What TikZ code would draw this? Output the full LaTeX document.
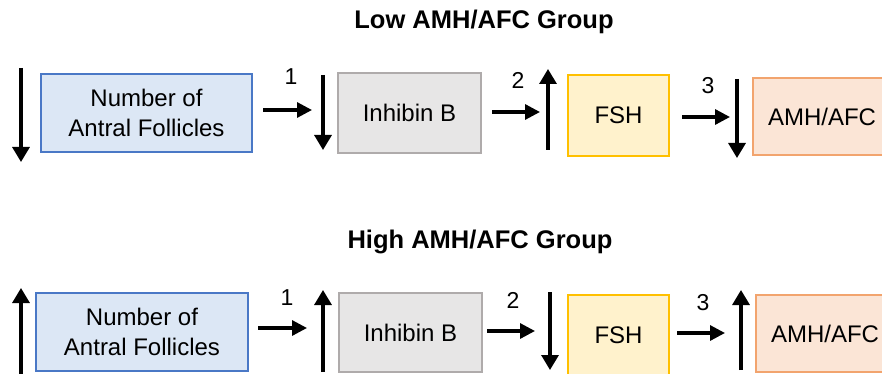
\documentclass[tikz,border=0pt]{standalone}
\usepackage{fontspec}
\setmainfont{Liberation Sans}
\usepackage{xcolor}
\usetikzlibrary{arrows.meta,positioning,calc}
\definecolor{blueFill}{HTML}{DCE7F5}
\definecolor{blueLine}{HTML}{4A78C6}
\definecolor{grayFill}{HTML}{E7E6E6}
\definecolor{grayLine}{HTML}{AFABAB}
\definecolor{yellowFill}{HTML}{FFF2CC}
\definecolor{yellowLine}{HTML}{FFC000}
\definecolor{orangeFill}{HTML}{FBE5D6}
\definecolor{orangeLine}{HTML}{F2A46E}
\tikzset{%
	block/.style    = {draw, rectangle, line width=1.2pt, inner sep=0pt, align=center,
	                   font=\fontsize{24}{30}\selectfont}, % Box
	title/.style    = {font=\fontsize{25.5}{30}\selectfont\bfseries}, % Group title
	step label/.style = {font=\fontsize{23}{27}\selectfont}, % Step number
	arrow/.style    = {line width=3.2pt, -{Triangle[width=15pt,length=15pt]}},
	trend/.style    = {line width=3.2pt, -{Triangle[width=17pt,length=15pt]}},
}

\begin{document}
\begin{tikzpicture}[x=1pt, y=-1pt]
	\useasboundingbox (0,0) rectangle (882,374);
	\clip (0,0) rectangle (882,374);
	% Low group
	\node[title] (lowT) at (484,22) {Low AMH/AFC Group};
	\node[block, fill=blueFill, draw=blueLine, minimum width=211pt, minimum height=78pt] (lowA) at (146.5,113) {Number of\\Antral Follicles};
	\node[block, fill=grayFill, draw=grayLine, minimum width=143pt, minimum height=80pt] (lowB) at (409.5,113) {Inhibin B};
	\node[block, fill=yellowFill, draw=yellowLine, minimum width=101pt, minimum height=81pt] (lowC) at (618.5,115.5) {FSH};
	\node[block, fill=orangeFill, draw=orangeLine, minimum width=138pt, minimum height=77pt] (lowD) at (822,116.5) {AMH/AFC};
	\coordinate (lowA0) at (21,68);  \coordinate (lowA1) at (21,162);
	\coordinate (lowB0) at (323,75); \coordinate (lowB1) at (323,150);
	\coordinate (lowC0) at (548,150); \coordinate (lowC1) at (548,69);
	\coordinate (lowD0) at (737,79); \coordinate (lowD1) at (737,158);
	\draw[trend] (lowA0) -- (lowA1);
	\draw[trend] (lowB0) -- (lowB1);
	\draw[trend] (lowC0) -- (lowC1);
	\draw[trend] (lowD0) -- (lowD1);
	\coordinate (lowS1) at (263,110); \coordinate (lowE1) at (312,110);
	\coordinate (lowS2) at (492,112); \coordinate (lowE2) at (540,112);
	\coordinate (lowS3) at (682,117); \coordinate (lowE3) at (730,117);
	\draw[arrow] (lowS1) -- (lowE1);
	\draw[arrow] (lowS2) -- (lowE2);
	\draw[arrow] (lowS3) -- (lowE3);
	\node[step label] (low1) at (291,77) {1};
	\node[step label] (low2) at (518,80) {2};
	\node[step label] (low3) at (708,86) {3};
	% High group
	\node[title] (highT) at (480,242) {High AMH/AFC Group};
	\node[block, fill=blueFill, draw=blueLine, minimum width=212pt, minimum height=78pt] (highA) at (142,332) {Number of\\Antral Follicles};
	\node[block, fill=grayFill, draw=grayLine, minimum width=143pt, minimum height=79pt] (highB) at (410.5,332.5) {Inhibin B};
	\node[block, fill=yellowFill, draw=yellowLine, minimum width=101pt, minimum height=81pt] (highC) at (618.5,335.5) {FSH};
	\node[block, fill=orangeFill, draw=orangeLine, minimum width=138pt, minimum height=77pt] (highD) at (825,333.5) {AMH/AFC};
	\coordinate (highA0) at (21,374);  \coordinate (highA1) at (21,288);
	\coordinate (highB0) at (323,372); \coordinate (highB1) at (323,290);
	\coordinate (highC0) at (550,292); \coordinate (highC1) at (550,370);
	\coordinate (highD0) at (741,370); \coordinate (highD1) at (741,290);
	\draw[trend] (highA0) -- (highA1);
	\draw[trend] (highB0) -- (highB1);
	\draw[trend] (highC0) -- (highC1);
	\draw[trend] (highD0) -- (highD1);
	\coordinate (highS1) at (258,328); \coordinate (highE1) at (307,328);
	\coordinate (highS2) at (487,331); \coordinate (highE2) at (535,331);
	\coordinate (highS3) at (677,333); \coordinate (highE3) at (725,333);
	\draw[arrow] (highS1) -- (highE1);
	\draw[arrow] (highS2) -- (highE2);
	\draw[arrow] (highS3) -- (highE3);
	\node[step label] (high1) at (287,298) {1};
	\node[step label] (high2) at (513,300) {2};
	\node[step label] (high3) at (703,303) {3};
\end{tikzpicture}
\end{document}
